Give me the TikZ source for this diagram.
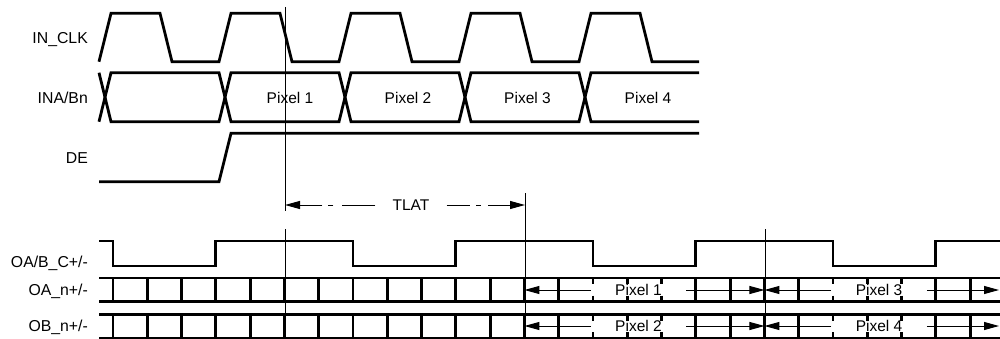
\documentclass[tikz,border=0pt]{standalone}
\usepackage{fontspec}
\setmainfont{Liberation Sans}
\usetikzlibrary{arrows.meta}
\begin{document}
\begin{tikzpicture}[x=1pt,y=-1pt,
  sig/.style={line width=2.8pt},
  fine/.style={line width=1pt},
  lbl/.style={anchor=base east, inner sep=0pt, font=\fontsize{15.8}{18}\selectfont},
  txt/.style={anchor=base, inner sep=0pt, font=\fontsize{15.5}{18}\selectfont},
  tri/.style={-{Triangle[length=15pt,width=8pt]}},
  dotv/.style={line width=2.8pt, dash pattern=on 6pt off 11.5pt on 6pt},
  tlatl/.style={fine, dash pattern=on 33pt off 9pt on 5pt off 6pt on 60pt},
  tlatr/.style={fine, dash pattern=on 23pt off 6.5pt on 5pt off 7pt on 60pt},
]
\useasboundingbox (0,0) rectangle (1000,339);
\def\bw{34.2857}
% labels
\node[lbl] (l1) at (88,43.3) {IN\_CLK};
\node[lbl] (l2) at (88,103.3) {INA/Bn};
\node[lbl] (l3) at (88,163.3) {DE};
\node[lbl] (l4) at (88,267) {OA/B\_C+/-};
\node[lbl] (l5) at (88,295) {OA\_n+/-};
\node[lbl] (l6) at (88,331.7) {OB\_n+/-};
% IN_CLK
\draw[sig] (99,61.7) -- (111,13.3) -- (160,13.3) -- (172,61.7)
  -- (219,61.7) -- (231,13.3) -- (280,13.3) -- (292,61.7)
  -- (339,61.7) -- (351,13.3) -- (400,13.3) -- (412,61.7)
  -- (459,61.7) -- (471,13.3) -- (520,13.3) -- (532,61.7)
  -- (579,61.7) -- (591,13.3) -- (640,13.3) -- (652,61.7) -- (699,61.7);
% INA/Bn bus
\draw[sig] (99,72.7) -- (105,97.2) -- (99,121.7);
\foreach \c in {99,219,339,459}
  \draw[sig] (\c+6,97.2) -- (\c+12,72.7) -- (\c+120,72.7) -- (\c+126,97.2)
     -- (\c+120,121.7) -- (\c+12,121.7) -- cycle;
\draw[sig] (699,72.7) -- (591,72.7) -- (585,97.2) -- (591,121.7) -- (699,121.7);
\node[txt] (p1) at (290,103.3) {Pixel 1};
\node[txt] (p2) at (408,103.3) {Pixel 2};
\node[txt] (p3) at (527.5,103.3) {Pixel 3};
\node[txt] (p4) at (648,103.3) {Pixel 4};
% DE
\draw[sig] (99,181.7) -- (219,181.7) -- (231,133.3) -- (699,133.3);
% marker lines
\coordinate (m1a) at (285,7);
\coordinate (m1b) at (285,211);
\coordinate (m1c) at (285,229);
\coordinate (m1d) at (285,339);
\coordinate (m2a) at (525,193);
\coordinate (m2d) at (525,339);
\coordinate (m3a) at (765,229);
\coordinate (m3d) at (765,339);
\draw[fine] (m1a) -- (m1b) (m1c) -- (m1d);
\draw[fine] (m2a) -- (m2d);
\draw[fine] (m3a) -- (m3d);
% TLAT
\coordinate (tl) at (285,205);
\coordinate (tr) at (525,205);
\node[txt, inner xsep=17pt] (tlat) at (411,210.7) {TLAT};
\draw[tlatl, tri] (tlat.west |- tl) -- (tl);
\draw[tlatr, tri] (tlat.east |- tr) -- (tr);
% OA/B_C clock
\draw[sig] (99,241) -- ({113+0*\bw},241) -- ({113+0*\bw},266) -- ({113+3*\bw},266)
  -- ({113+3*\bw},241) -- ({113+7*\bw},241) -- ({113+7*\bw},266)
  -- ({113+10*\bw},266) -- ({113+10*\bw},241) -- ({113+14*\bw},241)
  -- ({113+14*\bw},266) -- ({113+17*\bw},266) -- ({113+17*\bw},241)
  -- ({113+21*\bw},241) -- ({113+21*\bw},266) -- ({113+24*\bw},266)
  -- ({113+24*\bw},241) -- (1000,241);
% data rows
\draw[sig] (99,278) -- (1000,278) (99,301.5) -- (1000,301.5)
           (99,314.5) -- (1000,314.5) (99,338) -- (1000,338);
\foreach \k in {0,1,2,3,4,5,6,7,8,9,10,11,12,13,17,18,19,20,24,25}
  \draw[sig] ({113+\k*\bw},278) -- ({113+\k*\bw},301.5)
             ({113+\k*\bw},314.5) -- ({113+\k*\bw},338);
\foreach \k in {14,15,16,21,22,23}
  \draw[dotv] ({113+\k*\bw},278) -- ({113+\k*\bw},301.5)
              ({113+\k*\bw},314.5) -- ({113+\k*\bw},338);
\coordinate (ya) at (0,290);
\coordinate (yb) at (0,326);
\coordinate (ta12) at ({113+12*\bw},290);
\coordinate (ta19) at ({113+19*\bw},290);
\coordinate (taE) at (999,290);
\coordinate (tb12) at ({113+12*\bw},326);
\coordinate (tb19) at ({113+19*\bw},326);
\coordinate (tbE) at (999,326);
\node[txt, inner xsep=24.5pt] (qa1) at (638.5,295) {Pixel 1};
\node[txt, inner xsep=24.5pt] (qa3) at (879,295) {Pixel 3};
\node[txt, inner xsep=24.5pt] (qb2) at (638.5,331.7) {Pixel 2};
\node[txt, inner xsep=24.5pt] (qb4) at (879,331.7) {Pixel 4};
\draw[fine, tri] (qa1.west |- ya) -- (ta12);
\draw[fine, tri] (qa1.east |- ya) -- (ta19);
\draw[fine, tri] (qa3.west |- ya) -- (ta19);
\draw[fine, tri] (qa3.east |- ya) -- (taE);
\draw[fine, tri] (qb2.west |- yb) -- (tb12);
\draw[fine, tri] (qb2.east |- yb) -- (tb19);
\draw[fine, tri] (qb4.west |- yb) -- (tb19);
\draw[fine, tri] (qb4.east |- yb) -- (tbE);
\end{tikzpicture}
\end{document}
